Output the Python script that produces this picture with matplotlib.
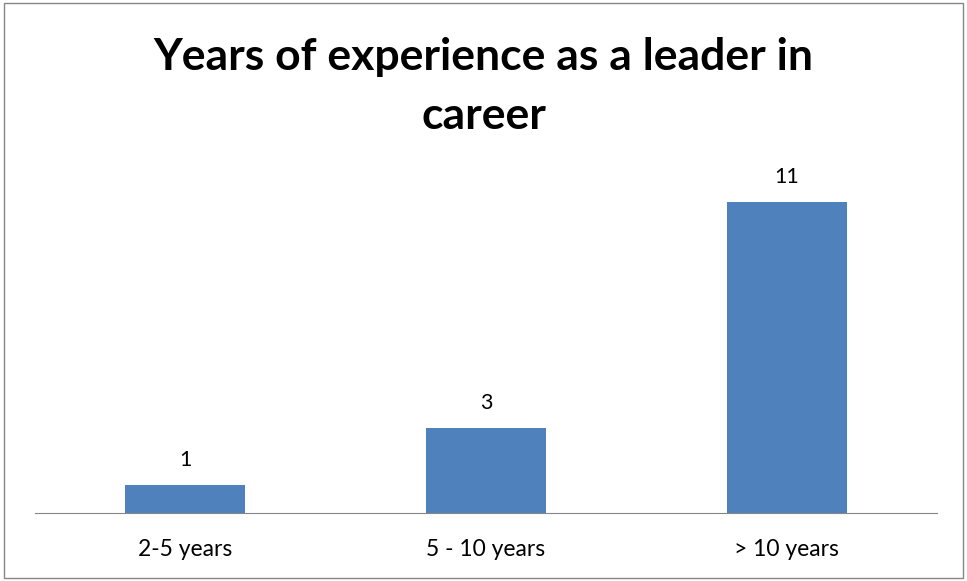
import matplotlib.pyplot as plt
from matplotlib.patches import Rectangle

categories = ["2-5 years", "5 - 10 years", "> 10 years"]
counts = [1, 3, 11]
title = "Years of experience as a leader in\ncareer"

plt.rcParams['font.family'] = ['Lato', 'DejaVu Sans']

fig = plt.figure(figsize=(9.67, 5.81), dpi=100)
ax = fig.add_axes([0.0362, 0.117, 0.9328, 0.6076])

x = list(range(len(categories)))
bars = ax.bar(x, counts, width=0.4, color="#4F81BD")

for b, v in zip(bars, counts):
    ax.annotate(str(v), (b.get_x() + b.get_width() / 2, b.get_height()),
                xytext=(0, 11), textcoords="offset points",
                ha="center", va="bottom", fontsize=15.5)

ax.set_xlim(-0.5, len(categories) - 0.5)
ax.set_ylim(0, 12.5)
ax.set_xticks(x)
ax.set_xticklabels(categories, fontsize=16.5)
ax.tick_params(axis="x", length=0, pad=19)
ax.set_yticks([])
for s in ["top", "right", "left"]:
    ax.spines[s].set_visible(False)
ax.spines["bottom"].set_color("#868686")

fig.text(0.5, 0.851, title, ha="center", va="center", fontsize=32,
         fontweight="bold", linespacing=1.55)

# outer chart border
fig.patches.append(Rectangle((0.004, 0.006), 0.992, 0.988, transform=fig.transFigure,
                             fill=False, edgecolor="#868686", linewidth=1))

fig.savefig("out.png", dpi=100)
